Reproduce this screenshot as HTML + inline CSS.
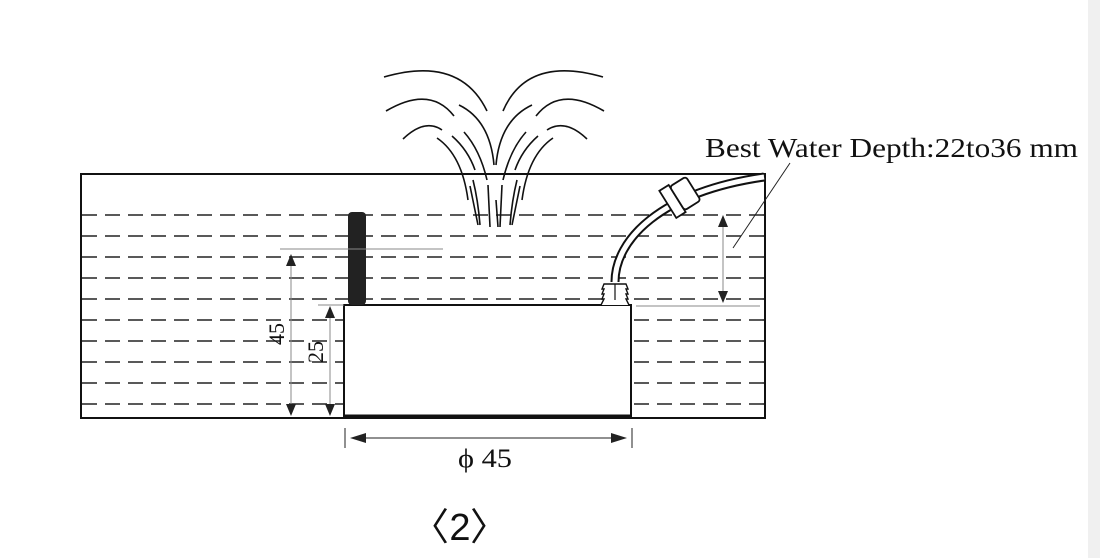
<!DOCTYPE html>
<html><head><style>body{margin:0;background:#fff}svg{display:block}</style></head><body>
<svg width="1100" height="558" viewBox="0 0 1100 558" xmlns="http://www.w3.org/2000/svg">
<rect x="1088" y="0" width="12" height="558" fill="#f0f0f0"/>
<g stroke="#222" stroke-width="1.6" stroke-dasharray="15 8">
<line x1="82" y1="215" x2="765" y2="215"/><line x1="82" y1="236" x2="765" y2="236"/>
<line x1="82" y1="257" x2="765" y2="257"/><line x1="82" y1="278" x2="765" y2="278"/>
<line x1="82" y1="299" x2="765" y2="299"/><line x1="82" y1="320" x2="765" y2="320"/>
<line x1="82" y1="341" x2="765" y2="341"/><line x1="82" y1="362" x2="765" y2="362"/>
<line x1="82" y1="383" x2="765" y2="383"/><line x1="82" y1="404" x2="765" y2="404"/>
</g>
<rect x="81" y="174" width="684" height="244" fill="none" stroke="#111" stroke-width="2"/>
<rect x="344" y="305" width="287" height="111" fill="#fff" stroke="#111" stroke-width="2"/>
<line x1="344" y1="416" x2="631" y2="416" stroke="#111" stroke-width="3"/>
<rect x="348" y="212" width="18" height="93" rx="4" fill="#222"/>
<g stroke="#888" stroke-width="1">
<line x1="280" y1="249" x2="443" y2="249"/><line x1="318" y1="305" x2="344" y2="305"/>
<line x1="636" y1="306" x2="760" y2="306"/>
<line x1="291" y1="258" x2="291" y2="410"/><line x1="330" y1="312" x2="330" y2="410"/>
<line x1="723" y1="222" x2="723" y2="296"/>
</g>
<g fill="#222">
<path d="M291 254l-5 12h10z"/><path d="M291 416l-5-12h10z"/>
<path d="M330 306l-5 12h10z"/><path d="M330 416l-5-12h10z"/>
<path d="M723 215l-5 12h10z"/><path d="M723 303l-5-12h10z"/>
<path d="M350 438l16-5v10z"/><path d="M627 438l-16-5v10z"/>
</g>
<line x1="355" y1="438" x2="622" y2="438" stroke="#222" stroke-width="1"/>
<line x1="345" y1="428" x2="345" y2="448" stroke="#222"/><line x1="632" y1="428" x2="632" y2="448" stroke="#222"/>
<line x1="733" y1="248" x2="790" y2="163" stroke="#222" stroke-width="1"/>
<path d="M615 282 C615 240 660 192 764 177" fill="none" stroke="#111" stroke-width="9"/>
<path d="M615 282 C615 240 660 192 764 177" fill="none" stroke="#fff" stroke-width="5"/>
<g transform="translate(678,198) rotate(-32)"><rect x="-12" y="-16" width="11" height="32" fill="#fff" stroke="#111" stroke-width="1.8"/><rect x="-1" y="-14" width="19" height="28" rx="3" fill="#fff" stroke="#111" stroke-width="1.8"/></g>
<path d="M601 305l3-6h-2l2-5h-2l2-5h-2l2-5h22l2 5h-2l2 5h-2l2 5h-2l3 6" fill="#fff" stroke="#111" stroke-width="1.4"/>
<line x1="615" y1="284" x2="615" y2="300" stroke="#111" stroke-width="1.2"/>
<g fill="none" stroke="#111" stroke-width="1.6">
<path d="M384 77 Q460 55 487 111"/><path d="M603 77 Q527 55 503 111"/>
<path d="M386 111 Q430 85 454 116"/><path d="M604 111 Q560 85 536 116"/>
<path d="M403 139 Q425 118 442 130"/><path d="M587 139 Q565 118 547 130"/>
<path d="M459 105 Q490 120 494 165"/><path d="M532 105 Q500 120 496 165"/>
<path d="M437 138 Q462 155 468 200"/><path d="M553 138 Q528 155 522 200"/>
<path d="M452 136 Q468 150 475 170"/><path d="M538 136 Q522 150 515 170"/>
<path d="M464 132 Q480 150 487 180"/><path d="M526 132 Q510 150 503 180"/>
<path d="M470 186 L478 225"/><path d="M520 186 L512 225"/>
<path d="M473 180 Q478 200 480 225"/><path d="M517 180 Q512 200 510 225"/>
<path d="M488 185 L490 227"/><path d="M502 185 L500 227"/>
<path d="M496 200 L498 227"/>
</g>
<g font-family="Liberation Serif, serif" fill="#111">
<text x="705" y="157" font-size="27" textLength="373" lengthAdjust="spacingAndGlyphs">Best Water Depth:22to36 mm</text>
<text x="458" y="467" font-size="26" textLength="54" lengthAdjust="spacingAndGlyphs">ϕ 45</text>
<text transform="translate(284,334) rotate(-90)" font-size="22" text-anchor="middle">45</text>
<text transform="translate(323,352) rotate(-90)" font-size="22" text-anchor="middle">25</text>
</g>
<g font-family="Liberation Sans, sans-serif" font-size="38" fill="#111">
<text x="430" y="540" text-anchor="middle">〈</text>
<text x="460" y="540" text-anchor="middle">2</text>
<text x="489" y="540" text-anchor="middle">〉</text>
</g>
</svg>
</body></html>
